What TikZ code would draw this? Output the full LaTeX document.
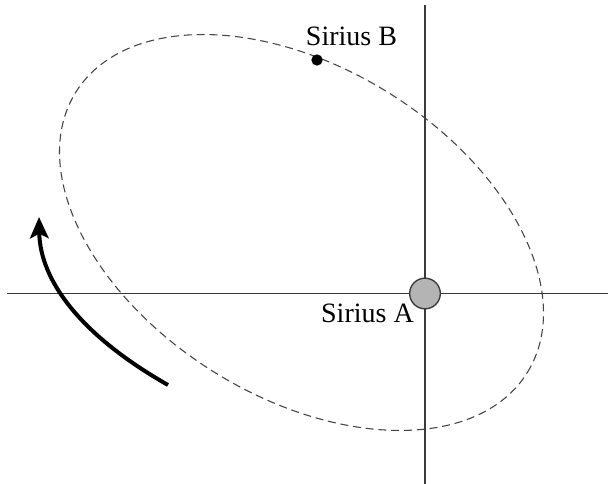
\documentclass[tikz,border=0pt]{standalone}
\usepackage{fontspec}
\setmainfont{Liberation Serif}
\usetikzlibrary{arrows.meta}
\definecolor{axisgray}{HTML}{3A3A3A}
\definecolor{orbitgray}{HTML}{444444}
\definecolor{stargray}{HTML}{B4B4B4}
\begin{document}
\begin{tikzpicture}[x=0.75pt,y=-0.75pt,
  axisline/.style={draw=axisgray,line width=1.4pt},
  orbit/.style={draw=orbitgray,line width=0.8pt,dash pattern=on 6pt off 3.6pt},
  starA/.style={circle,draw=axisgray,fill=stargray,line width=1pt,minimum size=23pt,inner sep=0pt},
  starB/.style={circle,fill=black,minimum size=8.5pt,inner sep=0pt},
  lbl/.style={font=\fontsize{21}{25}\selectfont,inner sep=0pt},
  motion/.style={line width=3pt,-{Stealth[length=16pt,width=14pt,inset=3.5pt]}}]
\useasboundingbox (0,0) rectangle (608,484);
\fill[white] (0,0) rectangle (608,484);
% axes
\coordinate (hl) at (7,293.5);
\coordinate (hr) at (608,293.5);
\coordinate (vt) at (425,5);
\coordinate (vb) at (425,484);
\draw[axisline] (hl) -- (hr);
\draw[axisline] (vt) -- (vb);
% orbit
\coordinate (O) at (301.5,232.5);
\draw[orbit,rotate around={-31.8:(O)}] (O) ellipse [x radius=199.3pt, y radius=123.5pt];
% stars
\node[starA] (A) at (425,293.5) {};
\node[starB] (B) at (317,60) {};
\node[lbl,anchor=base] (Blbl) at (351.5,46) {Sirius B};
\node[lbl,anchor=base east] (Albl) at (414,323) {Sirius A};
% motion arrow
\coordinate (as) at (168,385);
\coordinate (ae) at (39,217);
\draw[motion] (as) .. controls (80,335) and (40,280) .. (ae);
\end{tikzpicture}
\end{document}
